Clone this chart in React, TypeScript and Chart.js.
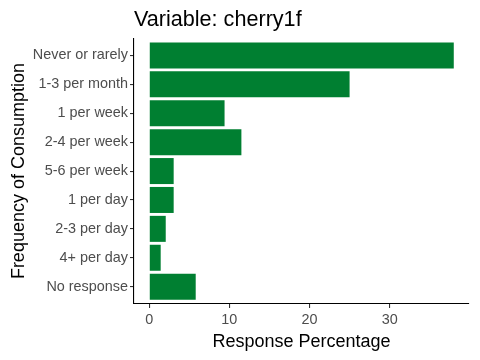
import React, { useEffect, useRef } from "react";
import { Chart, registerables } from "chart.js";

Chart.register(...registerables);

const categories = [
  "Never or rarely",
  "1-3 per month",
  "1 per week",
  "2-4 per week",
  "5-6 per week",
  "1 per day",
  "2-3 per day",
  "4+ per day",
  "No response",
];
const percentages = [38.0, 25.0, 9.4, 11.5, 3.05, 3.05, 2.06, 1.43, 5.8];
const xTickValues = [0, 10, 20, 30];

const titleText = "Variable: cherry1f";
const xTitle = "Response Percentage";
const yTitle = "Frequency of Consumption";

const FONT = "'Liberation Sans', Arial, sans-serif";
const BAR = "#007F31";

export default function App() {
  const ref = useRef<HTMLCanvasElement | null>(null);

  useEffect(() => {
    const canvas = ref.current;
    if (!canvas) return;
    const data = categories.map((c, i) => ({ x: percentages[i], y: i + 1 }));
    const maxV = Math.max(...percentages);
    const chart = new Chart(canvas, {
      type: "bar",
      data: {
        datasets: [
          {
            data: data as any,
            backgroundColor: BAR,
            borderWidth: 0,
            categoryPercentage: 0.9,
            barPercentage: 1,
          },
        ],
      },
      options: {
        indexAxis: "y",
        animation: false,
        responsive: false,
        devicePixelRatio: 1,
        layout: { padding: { left: 0, right: 11, top: 0, bottom: 0 } },
        plugins: {
          legend: { display: false },
          tooltip: { enabled: false },
          title: {
            display: true,
            text: titleText,
            align: "start",
            fullSize: false,
            color: "#000",
            font: { family: FONT, size: 21.6, weight: "normal" },
            padding: { top: 7, bottom: 5.2 },
          },
        },
        scales: {
          x: {
            type: "linear",
            offset: false,
            min: -maxV * 0.05,
            max: maxV * 1.05,
            afterBuildTicks: (scale: any) => {
              scale.ticks = xTickValues.map((v) => ({ value: v }));
            },
            afterFit: (scale: any) => {
              scale.height = 56;
            },
            ticks: {
              color: "#4D4D4D",
              font: { family: FONT, size: 14.4 },
              padding: 3.5,
              maxRotation: 0,
            },
            grid: {
              offset: false,
              drawOnChartArea: false,
              drawTicks: true,
              tickLength: 4,
              color: "#333333",
              lineWidth: 1.1,
            },
            border: { display: true, color: "#000", width: 1.1 },
            title: {
              display: true,
              text: xTitle,
              color: "#000",
              font: { family: FONT, size: 18 },
              padding: { top: 0, bottom: 7.6 },
            },
          },
          y: {
            type: "linear",
            offset: false,
            reverse: true,
            min: 0.4,
            max: categories.length + 0.6,
            afterBuildTicks: (scale: any) => {
              scale.ticks = categories.map((_, i) => ({ value: i + 1 }));
            },
            afterFit: (scale: any) => {
              scale.width = 134;
            },
            ticks: {
              color: "#4D4D4D",
              font: { family: FONT, size: 14.4 },
              padding: 2,
              autoSkip: false,
              callback: (v: any) => categories[Math.round(Number(v)) - 1] ?? "",
            },
            grid: {
              offset: false,
              drawOnChartArea: false,
              drawTicks: true,
              tickLength: 4,
              color: "#333333",
              lineWidth: 1.1,
            },
            border: { display: true, color: "#000", width: 1.1 },
            title: {
              display: true,
              text: yTitle,
              color: "#000",
              font: { family: FONT, size: 18 },
              padding: { top: 8.4, bottom: 0 },
            },
          },
        },
      },
    } as any);
    return () => chart.destroy();
  }, []);

  return (
    <div style={{ position: "fixed", left: 0, top: 0, width: 480, height: 360, background: "#fff" }}>
      <canvas ref={ref} width={480} height={360} style={{ display: "block" }} />
    </div>
  );
}
